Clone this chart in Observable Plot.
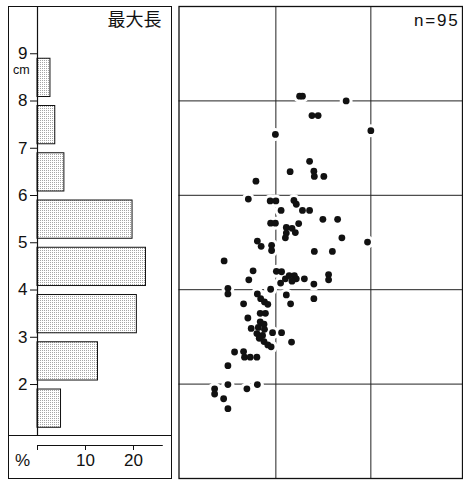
<!DOCTYPE html>
<html><head><meta charset="utf-8">
<script src="https://cdn.jsdelivr.net/npm/d3@7"></script>
<script src="https://cdn.jsdelivr.net/npm/@observablehq/plot@0.6"></script>
<style>
body{margin:0;background:#fff;}
#wrap{position:relative;width:463px;height:480px;font-family:"Liberation Sans",Arial,sans-serif;color:#111;background:#fff;overflow:hidden;}
.abs{position:absolute;}
.frameBox{position:absolute;box-sizing:border-box;border:1.2px solid #111;}
.lab{position:absolute;line-height:1;white-space:nowrap;color:#111;}
</style></head><body>
<div id="wrap"></div>
<script>
// ---- histogram of maximum length (cm) ----
const binStart = [1, 2, 3, 4, 5, 6, 7, 8];
const binEnd   = [2, 3, 4, 5, 6, 7, 8, 9];
const binPct   = [4.9, 12.6, 20.7, 22.6, 19.8, 5.6, 3.7, 2.7];
const lengthTicks = [2, 3, 4, 5, 6, 7, 8, 9];
const pctTicks = [0, 10, 20];
const pctAxisEnd = 26.2;
const histTitle = "最大長";
const lengthUnit = "cm";
const pctUnit = "%";

// ---- scatter: width (x) vs maximum length (y), cm ----
const widthCm = [2.50,2.56,3.48,2.76,2.89,1.99,4.00,2.71,2.30,2.80,
 2.81,3.01,1.58,1.42,1.88,2.00,2.38,2.43,2.11,2.56,
 2.71,2.99,3.30,1.89,1.99,2.48,2.22,2.34,2.41,2.22,
 2.20,3.39,3.93,1.61,1.69,1.91,1.91,2.81,3.19,0.91,
 1.52,1.43,2.01,2.12,2.10,2.20,2.28,2.39,2.43,2.34,
 2.60,2.80,3.11,3.11,1.89,2.22,2.31,2.80,0.99,0.99,
 1.32,1.61,1.68,1.76,1.83,1.41,1.67,1.78,1.48,1.13,
 1.32,1.34,1.46,1.60,0.99,0.99,1.39,1.61,0.71,0.71,
 0.90,0.99,1.67,1.75,1.63,1.76,1.60,1.72,
 1.93,2.12,1.65,1.75,1.83,1.90,2.33];
const lengthCm = [8.10,8.10,8.00,7.69,7.69,7.29,7.37,6.72,6.50,6.51,
 6.40,6.40,6.30,5.92,5.88,5.88,5.89,5.81,5.68,5.68,
 5.68,5.49,5.49,5.41,5.41,5.40,5.32,5.30,5.21,5.20,
 5.10,5.10,5.01,5.03,4.92,4.94,4.83,4.81,4.81,4.61,
 4.40,4.21,4.39,4.38,4.14,4.23,4.30,4.30,4.23,4.18,
 4.23,4.12,4.32,4.21,4.01,3.89,3.70,3.81,4.03,3.91,
 3.70,3.91,3.81,3.74,3.69,3.40,3.50,3.50,3.18,2.68,
 2.69,2.57,2.57,2.57,2.39,1.99,1.90,1.99,1.90,1.79,
 1.69,1.48,3.32,3.27,3.20,3.16,3.07,3.03,
 3.09,3.09,2.97,2.90,2.83,2.79,2.89];
const gridXVals = [2, 4];
const gridYVals = [2, 4, 6, 8];

const hist = binStart.map((lo, i) => ({lo, hi: binEnd[i], pct: binPct[i]}));
const points = widthCm.map((w, i) => ({w, l: lengthCm[i]}));

const font = '"Liberation Sans", Arial, sans-serif';
const ink = "#111";
const wrap = document.getElementById("wrap");

// left panel frame + divider (HTML boxes)
const fr = document.createElement("div");
fr.className = "frameBox";
Object.assign(fr.style, {left: "8px", top: "6px", width: "164px", height: "473px"});
wrap.appendChild(fr);
const dv = document.createElement("div");
dv.className = "abs";
Object.assign(dv.style, {left: "8px", top: "435px", width: "164px", height: "0", borderTop: "1.2px solid #111"});
wrap.appendChild(dv);

const left = Plot.plot({
  width: 172, height: 480,
  marginLeft: 37, marginRight: 0, marginTop: 6, marginBottom: 44,
  x: {domain: [0, 28.125], label: null, axis: null},
  y: {domain: [0.9, 10], label: null, axis: null},
  style: {fontFamily: font, fontSize: "17px", background: "transparent", color: ink},
  marks: [
    Plot.rectX(hist, {x: "pct", y1: "lo", y2: "hi", insetTop: 5, insetBottom: 4,
      fill: "url(#stipple)", stroke: ink, strokeWidth: 1}),
    Plot.ruleX([0], {stroke: ink, strokeWidth: 1.2}),
    Plot.axisY(lengthTicks, {anchor: "left", tickSize: 7, tickPadding: 3, fontSize: 17, label: null, stroke: ink}),
    Plot.axisX(pctTicks, {anchor: "bottom", tickSize: 5, tickPadding: 3, dy: 9, fontSize: 17, label: null, stroke: ink,
      tickFormat: d => d === 0 ? "" : String(d)}),
    Plot.ruleY([0.9], {x1: 0, x2: pctAxisEnd, dy: 9, stroke: ink, strokeWidth: 1.2}),
    Plot.text([histTitle], {frameAnchor: "top-right", dx: -11, dy: 7, lineAnchor: "top",
      fontSize: 18, fontFamily: '"Noto Sans CJK JP", sans-serif', fill: ink})
  ]
});
d3.select(left).insert("defs", ":first-child").html(
  '<pattern id="stipple" width="2" height="2" patternUnits="userSpaceOnUse">' +
  '<rect width="2" height="2" fill="#fff"/><rect width="1" height="1" fill="#a6a6a6"/></pattern>');
left.style.position = "absolute"; left.style.left = "0px"; left.style.top = "0px";
wrap.appendChild(left);

const cm = document.createElement("span");
cm.className = "lab"; cm.textContent = lengthUnit;
Object.assign(cm.style, {left: "13px", top: "63.5px", fontSize: "12.5px", lineHeight: "1"});
wrap.appendChild(cm);
const pc = document.createElement("span");
pc.className = "lab"; pc.textContent = pctUnit;
Object.assign(pc.style, {left: "15px", top: "452px", fontSize: "17px"});
wrap.appendChild(pc);

const right = Plot.plot({
  width: 285, height: 480,
  marginLeft: 0.5, marginRight: 1, marginTop: 6, marginBottom: 2,
  x: {domain: [-0.04, 5.93], axis: null},
  y: {domain: [0, 10], axis: null},
  style: {fontFamily: font, fontSize: "17px", background: "transparent", color: ink},
  marks: [
    Plot.gridX(gridXVals, {stroke: "#222", strokeOpacity: 1, strokeWidth: 1}),
    Plot.gridY(gridYVals, {stroke: "#222", strokeOpacity: 1, strokeWidth: 1}),
    Plot.dot(points, {x: "w", y: "l", r: 6.5, fill: "white", stroke: "none"}),
    Plot.dot(points, {x: "w", y: "l", r: 3.4, fill: ink, stroke: "none"}),
    Plot.frame({stroke: ink, strokeWidth: 1.3}),
    Plot.text([`n=${points.length}`], {frameAnchor: "top-right", dx: -3, dy: 7, lineAnchor: "top",
      fontSize: 17, fill: ink})
  ]
});
d3.select(right).selectAll("text").attr("letter-spacing", "1.8px");
right.style.position = "absolute"; right.style.left = "178px"; right.style.top = "0px";
wrap.appendChild(right);
</script>
</body></html>
